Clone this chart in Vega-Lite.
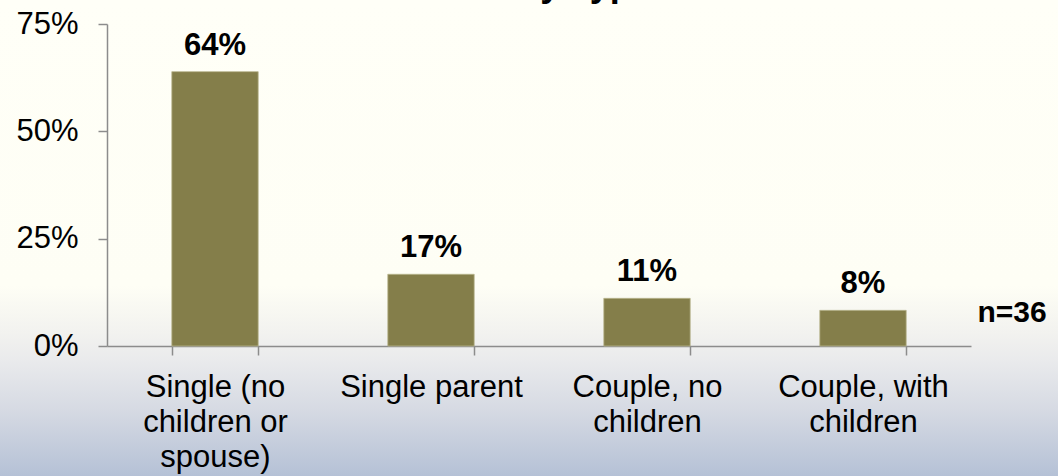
{
  "$schema": "https://vega.github.io/schema/vega-lite/v6.json",
  "width": 1058,
  "height": 476,
  "autosize": {"type": "none"},
  "padding": 0,
  "background": "#FFFFF7",
  "view": {
    "stroke": null,
    "fill": {
      "gradient": "linear",
      "x1": 0, "y1": 0, "x2": 0, "y2": 1,
      "stops": [
        {"offset": 0, "color": "#FFFFF7"},
        {"offset": 0.6, "color": "#FEFEF5"},
        {"offset": 0.7, "color": "#F2F2EF"},
        {"offset": 0.76, "color": "#E9EAEC"},
        {"offset": 0.86, "color": "#D6DAE3"},
        {"offset": 1, "color": "#B5C1D6"}
      ]
    }
  },
  "title": {
    "text": "Family Type",
    "font": "Liberation Sans",
    "fontSize": 36,
    "fontWeight": "bold",
    "color": "#000000",
    "anchor": "middle",
    "frame": "group",
    "offset": -32,
    "baseline": "alphabetic",
    "dx": 20
  },
  "data": {
    "values": [
      {"type": "Single (no children or spouse)", "share": 0.639},
      {"type": "Single parent", "share": 0.167},
      {"type": "Couple, no children", "share": 0.111},
      {"type": "Couple, with children", "share": 0.083}
    ]
  },
  "encoding": {
    "x": {
      "field": "type",
      "type": "nominal",
      "sort": null,
      "title": null,
      "scale": {"range": [107, 971], "paddingInner": 0.6, "paddingOuter": 0.3},
      "axis": {
        "orient": "bottom",
        "offset": -130,
        "labelAngle": 0,
        "tickBand": "extent",
        "tickSize": 9,
        "tickWidth": 1.5,
        "tickColor": "#8C8C8C",
        "domainColor": "#8C8C8C",
        "domainWidth": 1.5,
        "labelFont": "Liberation Sans",
        "labelFontSize": 31,
        "labelColor": "#000000",
        "labelPadding": 17,
        "labelLineHeight": 35,
        "labelBaseline": "top",
        "labelLimit": 300,
        "labelExpr": "datum.value == 'Single (no children or spouse)' ? ['Single (no', 'children or', 'spouse)'] : datum.value == 'Couple, no children' ? ['Couple, no', 'children'] : datum.value == 'Couple, with children' ? ['Couple, with', 'children'] : datum.label"
      }
    },
    "y": {
      "field": "share",
      "type": "quantitative",
      "title": null,
      "scale": {"domain": [0, 0.75], "range": [346, 24], "nice": false, "zero": true},
      "axis": {
        "orient": "left",
        "offset": -107,
        "values": [0, 0.25, 0.5, 0.75],
        "format": ".0%",
        "grid": false,
        "tickSize": 9,
        "tickWidth": 1.5,
        "tickColor": "#8C8C8C",
        "domainColor": "#8C8C8C",
        "domainWidth": 1.5,
        "labelFont": "Liberation Sans",
        "labelFontSize": 31,
        "labelColor": "#000000",
        "labelPadding": 20
      }
    }
  },
  "layer": [
    {
      "mark": {"type": "bar", "color": "#847E4A", "stroke": "#B9B58E", "strokeWidth": 0.8}
    },
    {
      "mark": {
        "type": "text",
        "font": "Liberation Sans",
        "fontSize": 31,
        "fontWeight": "bold",
        "color": "#000000",
        "baseline": "alphabetic",
        "dy": -17
      },
      "encoding": {
        "text": {"field": "share", "type": "quantitative", "format": ".0%"}
      }
    },
    {
      "transform": [{"filter": "datum.type == 'Couple, with children'"}],
      "mark": {
        "type": "text",
        "font": "Liberation Sans",
        "fontSize": 30,
        "fontWeight": "bold",
        "color": "#000000",
        "baseline": "alphabetic",
        "dx": 149
      },
      "encoding": {
        "y": {"datum": 0.056, "type": "quantitative"},
        "text": {"value": "n=36"}
      }
    }
  ]
}
